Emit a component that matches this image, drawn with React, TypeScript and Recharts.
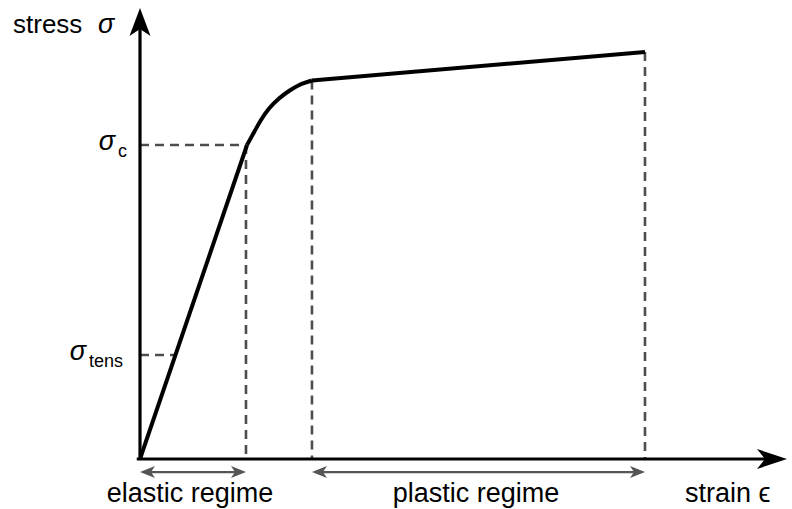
import React from 'react';
import { LineChart, Line, XAxis, YAxis, ReferenceLine } from 'recharts';

// ---- data ----
const elasticStrain = [0, 1.654];
const elasticStress = [0, 6.962];
const transitionStrain = [1.654, 1.767, 1.87, 1.998, 2.153, 2.308, 2.462, 2.658];
const transitionStress = [6.962, 7.257, 7.517, 7.776, 7.998, 8.166, 8.293, 8.392];
const plasticStrain = [2.658, 7.805];
const plasticStress = [8.392, 9.024];

const sigmaC = 6.962;
const sigmaTens = 2.306;
const tensStrain = 0.548;
const dashYieldStrain = 1.638;
const plasticStart = 2.658;
const plasticStartStress = 8.392;
const plasticEnd = 7.805;
const plasticEndStress = 9.024;
const regimeArrowLevel = -0.29;
const axisMax = 10;

const tickValues = [sigmaTens, sigmaC];
const tickSubs = ['tens', 'c'];

const zip = (xs: number[], ys: number[]) => xs.map((x, i) => ({ x, y: ys[i] }));
const elasticData = zip(elasticStrain, elasticStress);
const transitionData = zip(transitionStrain, transitionStress);
const plasticData = zip(plasticStrain, plasticStress);

const FONT = "'Liberation Sans', Arial, sans-serif";
const DASH = '#4d4d4d';

const ArrowShape = (p: any) => {
  const { x1, y1, x2, y2, color, width, L, W, N, both } = p;
  const dx = x2 - x1;
  const dy = y2 - y1;
  const len = Math.hypot(dx, dy) || 1;
  const ux = dx / len;
  const uy = dy / len;
  const nx = -uy;
  const ny = ux;
  const head = (tx: number, ty: number, sx: number, sy: number) => {
    const pts = [
      [tx, ty],
      [tx - L * sx + W * nx, ty - L * sy + W * ny],
      [tx - N * sx, ty - N * sy],
      [tx - L * sx - W * nx, ty - L * sy - W * ny],
    ];
    return pts.map((q) => q.join(',')).join(' ');
  };
  const sx1 = both ? x1 + N * ux : x1;
  const sy1 = both ? y1 + N * uy : y1;
  return (
    <g>
      <line x1={sx1} y1={sy1} x2={x2 - N * ux} y2={y2 - N * uy} stroke={color} strokeWidth={width} />
      <polygon points={head(x2, y2, ux, uy)} fill={color} />
      {both && <polygon points={head(x1, y1, -ux, -uy)} fill={color} />}
    </g>
  );
};

const DashShape = (p: any) => (
  <line x1={p.x1} y1={p.y1} x2={p.x2} y2={p.y2} stroke={DASH} strokeWidth={2.6} strokeDasharray="9 6" />
);

const SigmaTick = (props: any) => {
  const { x, y, payload, index } = props;
  const sub = tickSubs[index] ?? (payload.value === sigmaC ? 'c' : 'tens');
  const endOffset = sub === 'c' ? 13 : 17;
  return (
    <text x={x - endOffset} y={y + 5} textAnchor="end" fontFamily={FONT} fill="#000">
      <tspan fontStyle="italic" fontSize={27}>σ</tspan>
      <tspan fontSize={18} dx={3} dy={7}>{sub}</tspan>
    </text>
  );
};

export default function App() {
  return (
    <div style={{ position: 'absolute', left: 0, top: 0, background: '#fff' }}>
      <LineChart width={792} height={509} margin={{ top: 8, right: 5, bottom: 50, left: 0 }}>
        <XAxis type="number" dataKey="x" domain={[0, axisMax]} hide allowDataOverflow />
        <YAxis
          type="number"
          dataKey="y"
          domain={[0, axisMax]}
          width={140}
          ticks={tickValues}
          interval={0}
          axisLine={false}
          tickLine={false}
          tickSize={0}
          tickMargin={0}
          tick={<SigmaTick />}
          allowDataOverflow
        />
        {/* dashed guide lines */}
        <ReferenceLine segment={[{ x: 0, y: sigmaC }, { x: dashYieldStrain, y: sigmaC }]} shape={(p: any) => <DashShape {...p} />} />
        <ReferenceLine segment={[{ x: dashYieldStrain, y: sigmaC }, { x: dashYieldStrain, y: 0 }]} shape={(p: any) => <DashShape {...p} />} />
        <ReferenceLine segment={[{ x: 0, y: sigmaTens }, { x: tensStrain, y: sigmaTens }]} shape={(p: any) => <DashShape {...p} />} />
        <ReferenceLine segment={[{ x: plasticStart, y: plasticStartStress }, { x: plasticStart, y: 0 }]} shape={(p: any) => <DashShape {...p} />} />
        <ReferenceLine segment={[{ x: plasticEnd, y: plasticEndStress }, { x: plasticEnd, y: 0 }]} shape={(p: any) => <DashShape {...p} />} />

        {/* regime arrows */}
        <ReferenceLine
          segment={[{ x: 0, y: regimeArrowLevel }, { x: dashYieldStrain, y: regimeArrowLevel }]}
          ifOverflow="visible"
          shape={(p: any) => <ArrowShape {...p} color="#555555" width={2.4} L={15} W={6} N={11} both />}
        />
        <ReferenceLine
          segment={[{ x: plasticStart, y: regimeArrowLevel }, { x: plasticEnd, y: regimeArrowLevel }]}
          ifOverflow="visible"
          shape={(p: any) => <ArrowShape {...p} color="#555555" width={2.4} L={15} W={6} N={11} both />}
        />

        {/* axes with arrows */}
        <ReferenceLine
          segment={[{ x: 0, y: 0 }, { x: 0, y: axisMax }]}
          ifOverflow="visible"
          shape={(p: any) => <ArrowShape {...p} color="#000" width={3.2} L={28} W={10.5} N={21} />}
        />
        <ReferenceLine
          segment={[{ x: -0.05, y: 0 }, { x: axisMax, y: 0 }]}
          ifOverflow="visible"
          shape={(p: any) => <ArrowShape {...p} color="#000" width={3.2} L={30} W={10} N={22} />}
        />

        <Line data={elasticData} dataKey="y" type="linear" stroke="#000" strokeWidth={4} dot={false} isAnimationActive={false} />
        <Line data={transitionData} dataKey="y" type="monotone" stroke="#000" strokeWidth={4} dot={false} isAnimationActive={false} />
        <Line data={plasticData} dataKey="y" type="linear" stroke="#000" strokeWidth={4} dot={false} isAnimationActive={false} />

        <text x={13} y={33} fontFamily={FONT} fontSize={26} fill="#000">stress</text>
        <text x={98} y={33} fontFamily={FONT} fontSize={27} fontStyle="italic" fill="#000">σ</text>
        <text x={190} y={502} textAnchor="middle" fontFamily={FONT} fontSize={27} fill="#000">elastic regime</text>
        <text x={476} y={502} textAnchor="middle" fontFamily={FONT} fontSize={27} fill="#000">plastic regime</text>
        <text x={685} y={502} fontFamily={FONT} fontSize={27} fill="#000">strain ϵ</text>
      </LineChart>
    </div>
  );
}
